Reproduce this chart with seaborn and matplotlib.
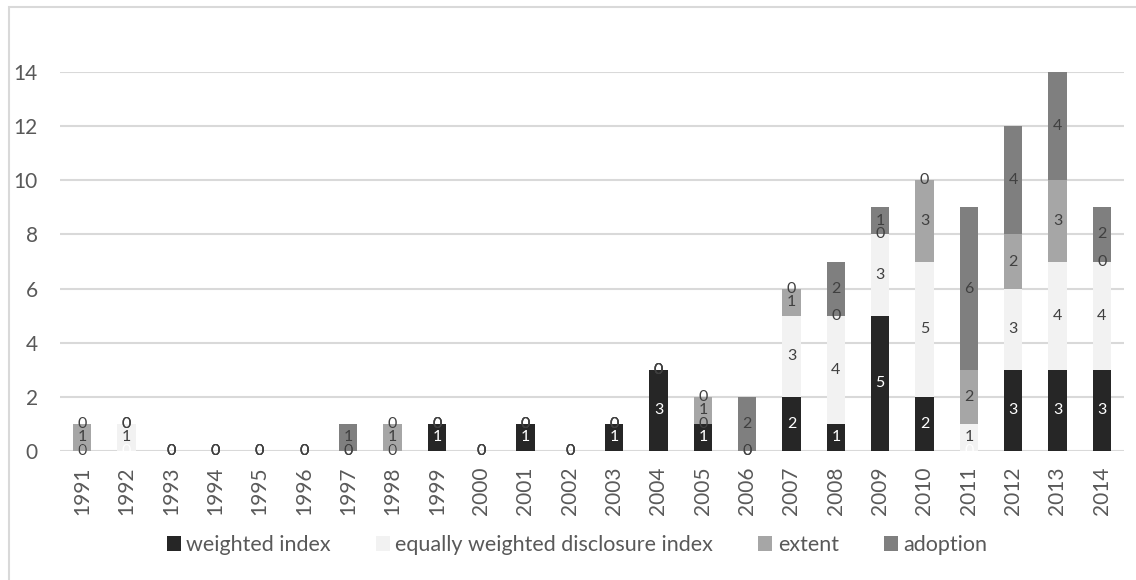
import matplotlib
matplotlib.use("Agg")
import matplotlib.pyplot as plt
from matplotlib.patches import Rectangle, Patch
import numpy as np
import pandas as pd
import seaborn as sns

years = [str(y) for y in range(1991, 2015)]
weighted_index = [0, 0, 0, 0, 0, 0, 0, 0, 1, 0, 1, 0, 1, 3, 1, 0, 2, 1, 5, 2, 0, 3, 3, 3]
equally_weighted = [0, 1, 0, 0, 0, 0, 0, 0, 0, 0, 0, 0, 0, 0, 0, 0, 3, 4, 3, 5, 1, 3, 4, 4]
extent = [1, 0, 0, 0, 0, 0, 0, 1, 0, 0, 0, 0, 0, 0, 1, 0, 1, 0, 0, 3, 2, 2, 3, 0]
adoption = [0, 0, 0, 0, 0, 0, 1, 0, 0, 0, 0, 0, 0, 0, 0, 2, 0, 2, 1, 0, 6, 4, 4, 2]

series_names = ["weighted index", "equally weighted disclosure index", "extent", "adoption"]
series_values = [weighted_index, equally_weighted, extent, adoption]
series_colors = ["#262626", "#f2f2f2", "#a6a6a6", "#7f7f7f"]
label_colors = ["#ffffff", "#404040", "#404040", "#404040"]
y_ticks = [0, 2, 4, 6, 8, 10, 12, 14]

sns.set_style("white")
plt.rcParams["font.family"] = ["Lato", "DejaVu Sans"]

fig = plt.figure(figsize=(11.36, 5.8), dpi=100)
ax = fig.add_axes([60 / 1136, 1 - 451 / 580, (1124 - 60) / 1136, (451 - 72) / 580])

# outer chart frame
fig.patches.append(Rectangle((9 / 1136, -0.05), 1.2, 1 - 7 / 580 + 0.05,
                             transform=fig.transFigure, fill=False,
                             edgecolor="#d9d9d9", linewidth=1.5, zorder=0))

for v in y_ticks:
    ax.axhline(v, color="#d9d9d9", linewidth=1.5, zorder=0)

bottom = np.zeros(len(years))
for name, vals, col, lcol in zip(series_names, series_values, series_colors, label_colors):
    df = pd.DataFrame({"year": years, "count": vals})
    n_before = len(ax.containers)
    sns.barplot(data=df, x="year", y="count", order=years, color=col,
                saturation=1, width=0.41, errorbar=None, bottom=bottom,
                linewidth=0, ax=ax, zorder=2)
    cont = ax.containers[n_before]
    ax.bar_label(cont, labels=[str(v) for v in vals], label_type="center",
                 color=lcol, fontsize=11.5, zorder=3)
    bottom = bottom + np.array(vals)

ax.set_ylim(0, 14)
ax.set_xlim(-0.5, len(years) - 0.5)
ax.set_yticks(y_ticks)
ax.set_yticklabels([str(v) for v in y_ticks])
ax.set_xlabel("")
ax.set_ylabel("")
ax.tick_params(axis="y", length=0, pad=16, labelsize=15, labelcolor="#595959")
ax.tick_params(axis="x", length=0, pad=11.5, labelsize=15, labelcolor="#595959",
               labelrotation=90)
for s in ax.spines.values():
    s.set_visible(False)

handles = [Patch(facecolor=c, edgecolor="none") for c in series_colors]
fig.legend(handles, series_names, loc="center", bbox_to_anchor=(0.508, 1 - 545 / 580),
           ncol=4, frameon=False, fontsize=15.5, labelcolor="#595959",
           handlelength=0.65, handleheight=0.65, handletextpad=0.25, columnspacing=2.1)

fig.savefig("out.png", dpi=100)
